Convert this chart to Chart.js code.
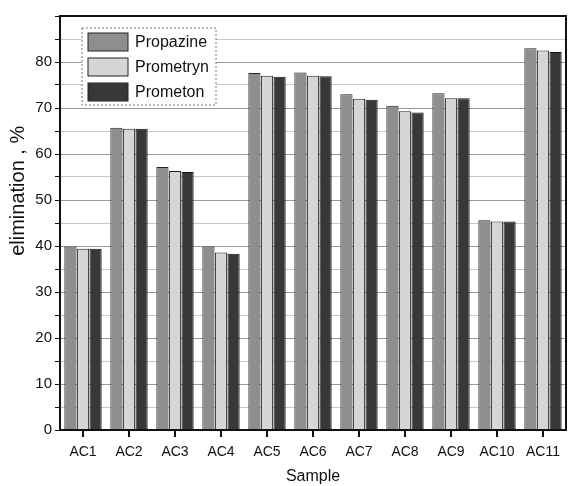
<!DOCTYPE html>
<html>
<head>
<meta charset="utf-8">
<script src="https://cdn.jsdelivr.net/npm/chart.js@4.4.0/dist/chart.umd.min.js"></script>
<style>
  html, body { margin: 0; padding: 0; background: #fff; }
  #wrap { width: 569px; height: 486px; }
</style>
</head>
<body>
<div id="wrap"><canvas id="elimChart"></canvas></div>
<script>
const samples = ['AC1', 'AC2', 'AC3', 'AC4', 'AC5', 'AC6', 'AC7', 'AC8', 'AC9', 'AC10', 'AC11'];
const propazine = [39.9, 65.7, 57.2, 39.9, 77.6, 77.7, 73.0, 70.5, 73.2, 45.6, 83.0];
const prometryn = [39.4, 65.5, 56.3, 38.6, 77.0, 77.0, 72.0, 69.3, 72.1, 45.3, 82.5];
const prometon = [39.4, 65.5, 56.1, 38.3, 76.8, 76.9, 71.8, 69.0, 72.1, 45.3, 82.2];
const yLabels = [0, 10, 20, 30, 40, 50, 60, 70, 80];
const yTitle = 'elimination , %';

const font = 'Liberation Sans, Arial, sans-serif';

// frame round the plot, y title (sits above centre in the original), legend box inside plot
const framePlugin = {
    id: 'frame',
    afterDraw(chart) {
        const ctx = chart.ctx;
        const a = chart.chartArea;
        ctx.save();
        ctx.strokeStyle = '#111';
        ctx.lineWidth = 2;
        ctx.strokeRect(a.left, a.top, a.right - a.left, a.bottom - a.top);

        ctx.save();
        ctx.translate(18, chart.scales.y.getPixelForValue(52));
        ctx.rotate(-Math.PI / 2);
        ctx.fillStyle = '#111';
        ctx.font = '20px ' + font;
        ctx.textAlign = 'center';
        ctx.textBaseline = 'middle';
        ctx.fillText(yTitle, 0, 0);
        ctx.restore();

        const x0 = a.left + 22, y0 = a.top + 12;
        ctx.fillStyle = '#fff';
        ctx.fillRect(x0, y0, 134, 77);
        ctx.strokeStyle = '#777';
        ctx.lineWidth = 1;
        ctx.setLineDash([2, 2]);
        ctx.strokeRect(x0, y0, 134, 77);
        ctx.setLineDash([]);
        chart.data.datasets.forEach((ds, i) => {
            const sy = y0 + 5 + i * 25;
            ctx.fillStyle = ds.backgroundColor;
            ctx.fillRect(x0 + 6, sy, 40, 18);
            ctx.strokeStyle = '#222';
            ctx.strokeRect(x0 + 6, sy, 40, 18);
            ctx.fillStyle = '#111';
            ctx.font = '16px ' + font;
            ctx.textBaseline = 'middle';
            ctx.fillText(ds.label, x0 + 53, sy + 10);
        });
        ctx.restore();
    },
};

new Chart(document.getElementById('elimChart'), {
    type: 'bar',
    data: {
        labels: samples,
        datasets: [
            {
                label: 'Propazine',
                data: propazine,
                backgroundColor: '#8e8e8e',
                borderColor: '#222',
                borderWidth: 1,
            },
            {
                label: 'Prometryn',
                data: prometryn,
                backgroundColor: '#d6d6d6',
                borderColor: '#222',
                borderWidth: 1,
            },
            {
                label: 'Prometon',
                data: prometon,
                backgroundColor: '#383838',
                borderColor: '#111',
                borderWidth: 1,
            },
        ],
    },
    options: {
        responsive: true,
        maintainAspectRatio: false,
        animation: false,
        datasets: {
            bar: {
                barPercentage: 0.97,
                categoryPercentage: 0.82,
            },
        },
        layout: {
            padding: { top: 16, right: 3, bottom: 0, left: 0 },
        },
        plugins: {
            legend: { display: false },
            tooltip: { enabled: false },
        },
        scales: {
            x: {
                grid: {
                    display: true,
                    drawOnChartArea: false,
                    offset: false,
                    tickLength: 7,
                    color: '#111',
                    lineWidth: 2,
                },
                border: { display: false },
                ticks: {
                    color: '#111',
                    font: { family: font, size: 14 },
                    padding: 7,
                },
                title: {
                    display: true,
                    text: 'Sample',
                    color: '#111',
                    font: { family: font, size: 16 },
                    padding: { top: 5, bottom: 0 },
                },
                afterFit: function (scale) {
                    scale.height = 56;
                },
            },
            y: {
                min: 0,
                max: 90,
                grid: {
                    tickLength: 5,
                    color: function (c) {
                        if (c.tick && c.tick.value % 10 === 0) return '#9a9a9a';
                        return '#c8c8c8';
                    },
                    tickColor: '#111',
                    lineWidth: 1,
                },
                border: { display: false },
                ticks: {
                    stepSize: 5,
                    color: '#111',
                    font: { family: font, size: 15 },
                    padding: 3,
                    callback: function (value) {
                        return yLabels.includes(value) ? value : '';
                    },
                },
                afterFit: function (scale) {
                    scale.width = 60;
                },
            },
        },
    },
    plugins: [framePlugin],
});
</script>
</body>
</html>
